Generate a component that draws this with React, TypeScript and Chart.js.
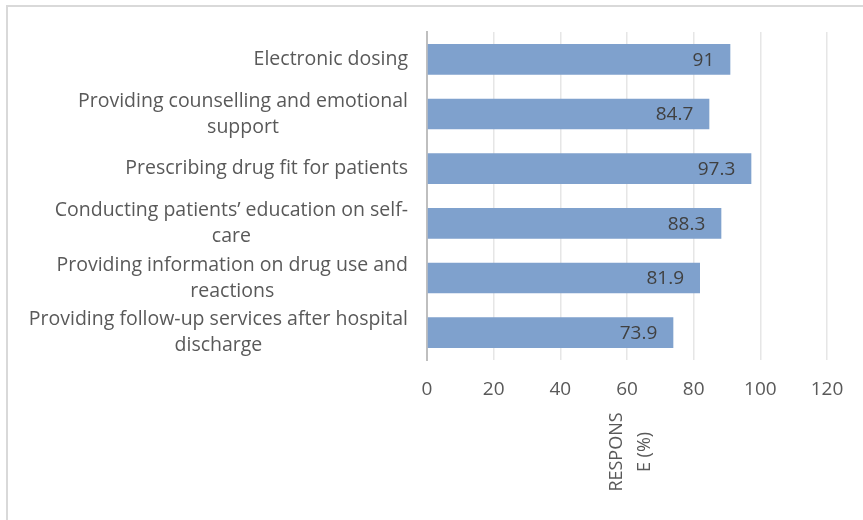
import React, { useEffect, useRef } from "react";
import { Chart, registerables } from "chart.js";

Chart.register(...registerables);

const categories: string[][] = [
  ["Electronic dosing"],
  ["Providing counselling and emotional", "support"],
  ["Prescribing drug fit for patients"],
  ["Conducting patients\u2019 education on self-", "care"],
  ["Providing information on drug use and", "reactions"],
  ["Providing follow-up services after hospital", "discharge"],
];
const responseValues: number[] = [91, 84.7, 97.3, 88.3, 81.9, 73.9];
const xTickValues: number[] = [0, 20, 40, 60, 80, 100, 120];
const axisTitleLines: string[] = ["RESPONS", "E (%)"];

const FONT = "'Open Sans', Lato, sans-serif";
const TEXT_COLOR = "#595959";

export default function App() {
  const canvasRef = useRef<HTMLCanvasElement | null>(null);

  useEffect(() => {
    const canvas = canvasRef.current;
    if (!canvas) return;

    const customPlugin = {
      id: "custom",
      beforeDraw(chart: any) {
        const ctx = chart.ctx;
        ctx.save();
        ctx.fillStyle = "#d9d9d9";
        ctx.fillRect(6, 5, 863, 2);
        ctx.fillRect(6, 5, 2, 520);
        ctx.restore();
      },
      afterDraw(chart: any) {
        const ctx = chart.ctx;
        const area = chart.chartArea;
        const yScale = chart.scales.y;
        ctx.save();
        // category labels
        ctx.font = `19.5px ${FONT}`;
        ctx.fillStyle = TEXT_COLOR;
        ctx.textAlign = "center";
        ctx.textBaseline = "middle";
        const right = area.left - 19;
        const lh = 26;
        categories.forEach((lines, i) => {
          const y = yScale.getPixelForValue(i);
          const maxW = Math.max(...lines.map((l) => ctx.measureText(l).width));
          const cx = right - maxW / 2;
          lines.forEach((l, j) => {
            ctx.fillText(l, cx, y + (j - (lines.length - 1) / 2) * lh);
          });
        });
        // data labels
        const meta = chart.getDatasetMeta(0);
        ctx.font = `19px ${FONT}`;
        ctx.fillStyle = "#404040";
        ctx.textAlign = "right";
        meta.data.forEach((el: any, i: number) => {
          ctx.fillText(String(responseValues[i]), el.x - 16, el.y + 1);
        });
        // axis title (rotated)
        const xScale = chart.scales.x;
        const tx = xScale.getPixelForValue(60) + 4;
        ctx.translate(tx, 452);
        ctx.rotate(-Math.PI / 2);
        ctx.font = `18px ${FONT}`;
        ctx.fillStyle = TEXT_COLOR;
        ctx.textAlign = "center";
        ctx.textBaseline = "middle";
        axisTitleLines.forEach((l, j) => {
          ctx.fillText(l, 0, (j - (axisTitleLines.length - 1) / 2) * 28);
        });
        ctx.restore();
      },
    };

    const chart = new Chart(canvas, {
      type: "bar",
      data: {
        labels: categories.map((c) => c.join(" ")),
        datasets: [
          {
            data: responseValues,
            backgroundColor: "#7fa1cd",
            borderColor: "#8fb0d8",
            borderWidth: 0,
            barPercentage: 0.56,
            categoryPercentage: 1,
          },
        ],
      },
      options: {
        indexAxis: "y",
        animation: false,
        responsive: false,
        maintainAspectRatio: false,
        layout: { padding: { top: 32, right: 36, bottom: 0, left: 0 } },
        plugins: {
          legend: { display: false },
          tooltip: { enabled: false },
          title: { display: false },
        },
        scales: {
          x: {
            type: "linear",
            min: 0,
            max: 120,
            afterBuildTicks: (scale: any) => {
              scale.ticks = xTickValues.map((v) => ({ value: v }));
            },
            afterFit: (scale: any) => {
              scale.height = 160;
            },
            grid: {
              color: "#e6e6e6",
              lineWidth: 1.5,
              drawTicks: false,
            },
            border: { display: false },
            ticks: {
              padding: 18,
              color: TEXT_COLOR,
              font: { family: FONT, size: 19 },
            },
          },
          y: {
            afterFit: (scale: any) => {
              scale.width = 427;
            },
            grid: { display: false, drawTicks: false },
            border: { display: true, color: "#bfbfbf", width: 2 },
            ticks: { display: false },
          },
        },
      },
      plugins: [customPlugin],
    } as any);

    return () => chart.destroy();
  }, []);

  return (
    <div
      style={{
        position: "fixed",
        left: 0,
        top: 0,
        width: 863,
        height: 520,
        background: "#ffffff",
      }}
    >
      <canvas ref={canvasRef} width={863} height={520} style={{ display: "block" }} />
    </div>
  );
}
